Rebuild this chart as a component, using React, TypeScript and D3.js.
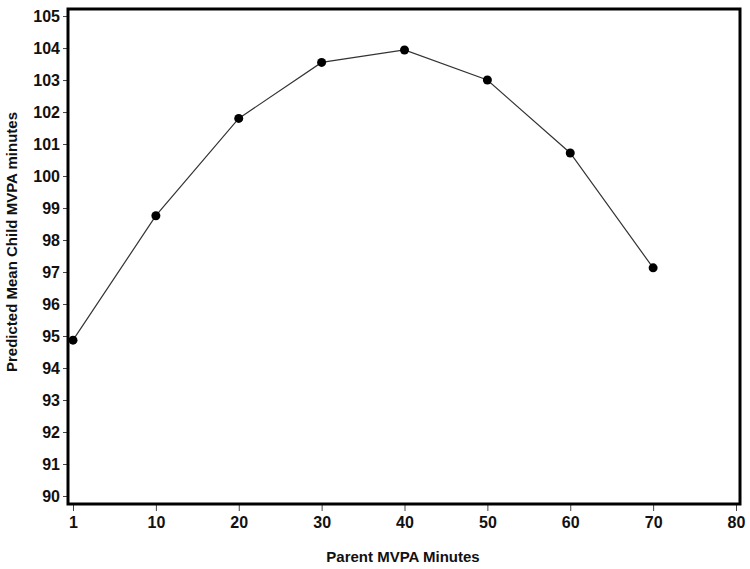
import React, { useEffect, useRef } from 'react';
import * as d3 from 'd3';

// Parent MVPA minutes (equally spaced categories on the x axis)
const xCategories = ['1', '10', '20', '30', '40', '50', '60', '70', '80'];
const pointCategories = ['1', '10', '20', '30', '40', '50', '60', '70'];
const predictedChild = [94.87, 98.76, 101.8, 103.55, 103.94, 103.0, 100.72, 97.13];
const yTicks = [90, 91, 92, 93, 94, 95, 96, 97, 98, 99, 100, 101, 102, 103, 104, 105];

const App = () => {
    const ref = useRef<SVGSVGElement>(null);

    useEffect(() => {
        const width = 750;
        const height = 569;
        const left = 68, right = 740, top = 9, bottom = 504;

        const x = d3.scalePoint<string>()
            .domain(xCategories)
            .range([73, 736]);

        const y = d3.scaleLinear()
            .domain([89.75, 105.22])
            .range([bottom, top]);

        const svg = d3.select(ref.current)
            .attr('width', width)
            .attr('height', height);

        svg.selectAll('*').remove();

        svg.append('rect')
            .attr('width', width)
            .attr('height', height)
            .attr('fill', '#fff');

        // y axis ticks + labels
        const yAxis = svg.append('g')
            .attr('transform', `translate(${left},0)`)
            .call(d3.axisLeft(y).tickValues(yTicks).tickSize(5).tickPadding(3).tickFormat(d3.format('d')));
        yAxis.select('.domain').remove();
        yAxis.selectAll('line').attr('stroke', '#444');
        yAxis.selectAll('text')
            .attr('font-family', 'Liberation Sans, Arial, sans-serif')
            .attr('font-size', 16)
            .attr('font-weight', 'bold')
            .attr('fill', '#111');

        // x axis ticks + labels
        const xAxis = svg.append('g')
            .attr('transform', `translate(0,${bottom})`)
            .call(d3.axisBottom(x).tickSize(7).tickPadding(6));
        xAxis.select('.domain').remove();
        xAxis.selectAll('line').attr('stroke', '#444');
        xAxis.selectAll('text')
            .attr('font-family', 'Liberation Sans, Arial, sans-serif')
            .attr('font-size', 16)
            .attr('font-weight', 'bold')
            .attr('fill', '#111');

        // plot frame
        svg.append('rect')
            .attr('x', left)
            .attr('y', top)
            .attr('width', right - left)
            .attr('height', bottom - top)
            .attr('fill', 'none')
            .attr('stroke', '#000')
            .attr('stroke-width', 3);

        const pts = pointCategories.map((c, i) => ({ c, v: predictedChild[i] }));

        const line = d3.line<{ c: string; v: number }>()
            .x(d => x(d.c) as number)
            .y(d => y(d.v));

        svg.append('path')
            .datum(pts)
            .attr('d', line)
            .attr('fill', 'none')
            .attr('stroke', '#333')
            .attr('stroke-width', 1.2);

        svg.append('g')
            .selectAll('circle')
            .data(pts)
            .join('circle')
            .attr('cx', d => x(d.c) as number)
            .attr('cy', d => y(d.v))
            .attr('r', 4.5)
            .attr('fill', '#000');

        // axis titles
        svg.append('text')
            .attr('x', 403)
            .attr('y', 562)
            .attr('text-anchor', 'middle')
            .attr('font-family', 'Liberation Sans, Arial, sans-serif')
            .attr('font-size', 15)
            .attr('font-weight', 'bold')
            .attr('fill', '#111')
            .text('Parent MVPA Minutes');

        svg.append('text')
            .attr('transform', 'translate(17,242) rotate(-90)')
            .attr('text-anchor', 'middle')
            .attr('font-family', 'Liberation Sans, Arial, sans-serif')
            .attr('font-size', 15)
            .attr('font-weight', 'bold')
            .attr('fill', '#111')
            .text('Predicted Mean Child MVPA minutes');
    }, []);

    return (
        <div style={{ position: 'absolute', left: 0, top: 0 }}>
            <svg ref={ref} style={{ display: 'block' }} />
        </div>
    );
};

export default App;
